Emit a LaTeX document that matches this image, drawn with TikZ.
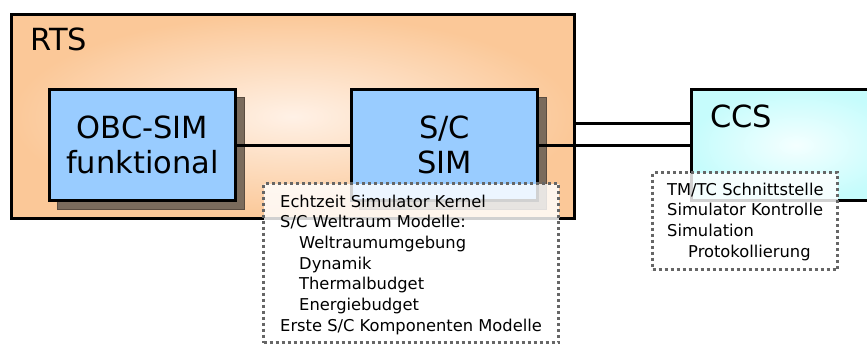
\documentclass[tikz,border=0pt]{standalone}
\usepackage{fontspec}
\setmainfont{DejaVu Sans}
\definecolor{simblue}{HTML}{99CCFF}
\definecolor{shadowc}{HTML}{7A6B5C}
\definecolor{shadowdark}{HTML}{5A4C40}
\definecolor{rtsout}{HTML}{FBC898}
\definecolor{rtsin}{HTML}{FFF1E6}
\definecolor{ccsout}{HTML}{C6FCFC}
\definecolor{ccsin}{HTML}{F4FFFF}
\definecolor{notegray}{HTML}{666666}
\begin{document}
\begin{tikzpicture}[x=1pt,y=-1pt,
  bigtext/.style={font=\fontsize{30.5}{35}\selectfont},
  notetext/.style={font=\fontsize{16.3}{20.7}\selectfont, align=left, inner sep=0pt, anchor=north west},
  simbox/.style={draw=black, line width=3pt, fill=simblue, minimum width=186pt, minimum height=111pt, inner sep=0pt, align=center, bigtext},
  shadowbox/.style={draw=shadowdark, line width=0.8pt, fill=shadowc, minimum width=187pt, minimum height=112pt, inner sep=0pt},
  outerbox/.style={draw=black, line width=3pt, inner sep=0pt},
  conn/.style={draw=black, line width=3pt},
  notebox/.style={draw=notegray, line width=3pt, dash pattern=on 3pt off 3pt, fill=white, fill opacity=0.82, inner sep=0pt}
]
\useasboundingbox (0,0) rectangle (867,345);
\begin{scope}
\clip (0,0) rectangle (867,345);
% RTS container
\node[outerbox, shading=radial, inner color=rtsin, outer color=rtsout,
  minimum width=563pt, minimum height=204pt] (RTS) at (293,116.5) {};
\node[bigtext, anchor=base west, inner sep=0pt] (RTSlabel) at (30,51) {RTS};
% shadows
\node[shadowbox] (OBCsh) at (150.5,153) {};
\node[shadowbox] (SCsh) at (452.5,153) {};
% simulator boxes
\node[simbox] (OBC) at (142.5,145) {OBC-SIM\\funktional};
\node[simbox] (SC) at (444.5,145) {S/C\\SIM};
% CCS
\node[outerbox, shading=radial, inner color=ccsin, outer color=ccsout,
  minimum width=210pt, minimum height=111pt] (CCS) at (796,145) {};
\node[bigtext, anchor=base west, inner sep=0pt] (CCSlabel) at (710,127) {CCS};
% connectors
\coordinate (upper) at (690,123);
\draw[conn] (OBC.east) -- (SC.west);
\draw[conn] (SC.east) -- (SC.east -| CCS.west);
\draw[conn] (upper -| RTS.east) -- (upper -| CCS.west);
% notes
\node[notebox, minimum width=295pt, minimum height=159pt] (SCnote) at (411,263) {};
\node[notetext] (SCnotetext) at (280,194.6) {Echtzeit Simulator Kernel\\
S/C Weltraum Modelle:\\
\hspace*{19pt}Weltraumumgebung\\
\hspace*{19pt}Dynamik\\
\hspace*{19pt}Thermalbudget\\
\hspace*{19pt}Energiebudget\\
Erste S/C Komponenten Modelle};
\node[notebox, minimum width=185pt, minimum height=97pt] (CCSnote) at (745,221) {};
\node[notetext] (CCSnotetext) at (667,182.6) {TM/TC Schnittstelle\\
Simulator Kontrolle\\
Simulation\\
\hspace*{21pt}Protokollierung};
\end{scope}
\end{tikzpicture}
\end{document}
